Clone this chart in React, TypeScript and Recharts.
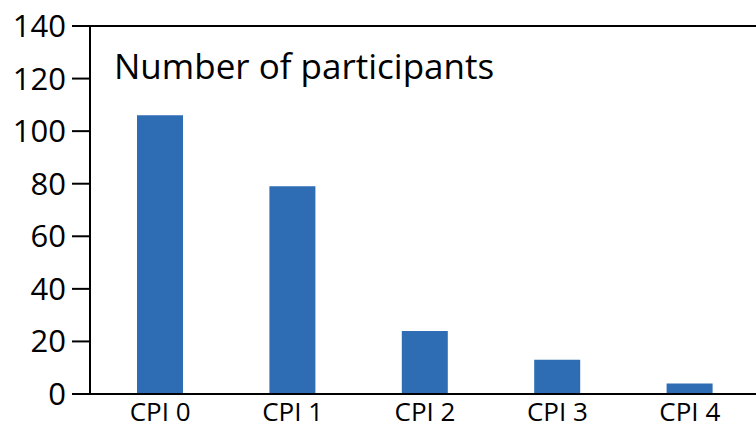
import { BarChart, Bar, XAxis, YAxis, ReferenceLine } from 'recharts'

const categories = ['CPI 0', 'CPI 1', 'CPI 2', 'CPI 3', 'CPI 4']
const participants = [106, 79, 24, 13, 4]
const yTicks = [0, 20, 40, 60, 80, 100, 120, 140]

const chartData = categories.map((cpi, i) => ({ cpi, value: participants[i] }))

const FONT = '"Open Sans", sans-serif'

export default function App() {
  return (
    <div style={{ position: 'absolute', left: 0, top: 0, width: 756, height: 432, background: '#fff' }}>
      <BarChart
        width={756}
        height={432}
        data={chartData}
        margin={{ top: 26, right: 0, left: 0, bottom: 0 }}
      >
        <XAxis
          dataKey="cpi"
          height={38}
          padding={{ left: 4, right: 0 }}
          axisLine={{ stroke: '#000', strokeWidth: 2 }}
          tickLine={false}
          tickSize={0}
          tickMargin={9}
          tick={{ fontSize: 26, fill: '#000', fontFamily: FONT }}
        />
        <YAxis
          width={90}
          domain={[0, 140]}
          ticks={yTicks}
          interval={0}
          axisLine={{ stroke: '#000', strokeWidth: 2 }}
          tickLine={{ stroke: '#000', strokeWidth: 2 }}
          tickSize={18}
          tickMargin={6}
          tick={{ fontSize: 31, fill: '#000', fontFamily: FONT }}
        />
        <ReferenceLine y={140} stroke="#000" strokeWidth={2} />
        <Bar dataKey="value" fill="#2E6DB4" barSize={46} isAnimationActive={false} />
      </BarChart>
      <div
        style={{
          position: 'absolute',
          left: 114,
          top: 42,
          fontFamily: FONT,
          fontSize: 35,
          color: '#000',
          whiteSpace: 'nowrap',
        }}
      >
        Number of participants
      </div>
    </div>
  )
}
